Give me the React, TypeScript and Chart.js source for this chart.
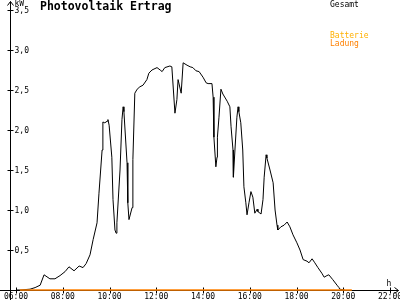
import React, { useEffect, useRef } from "react";
import { Chart, registerables } from "chart.js";

Chart.register(...registerables);

const chartTitle = "Photovoltaik Ertrag";
const yUnit = "kW";
const xUnit = "h";

const gesamtTimes = [
  "06:00", "06:10", "06:36", "06:49", "07:02", "07:12", "07:27", "07:40", "07:53", "08:06",
  "08:16", "08:29", "08:42", "08:52", "09:00", "09:10", "09:18", "09:28", "09:33", "09:41",
  "09:43", "09:48", "09:54", "09:56", "09:59", "10:06", "10:09", "10:14", "10:17", "10:19",
  "10:27", "10:32", "10:35", "10:37", "10:45", "10:47", "10:50", "10:58", "11:00", "11:05",
  "11:11", "11:18", "11:26", "11:36", "11:41", "11:49", "12:02", "12:10", "12:15", "12:22",
  "12:35", "12:40", "12:48", "12:53", "12:56", "13:04", "13:09", "13:19", "13:27", "13:34",
  "13:42", "13:50", "14:00", "14:08", "14:13", "14:23", "14:26", "14:28", "14:33", "14:36",
  "14:37", "14:41", "14:46", "14:51", "15:02", "15:09", "15:12", "15:17", "15:18", "15:22",
  "15:27", "15:30", "15:32", "15:37", "15:42", "15:45", "15:50", "15:53", "15:58", "16:03",
  "16:08", "16:13", "16:19", "16:21", "16:29", "16:34", "16:37", "16:42", "16:44", "16:52",
  "17:00", "17:05", "17:10", "17:12", "17:20", "17:28", "17:36", "17:43", "17:51", "18:01",
  "18:09", "18:17", "18:27", "18:32", "18:40", "18:47", "18:55", "19:05", "19:11", "19:18",
  "19:23", "19:33", "19:44", "19:49", "19:51", "20:04",
];
const gesamtKw = [
  0.0, 0.0, 0.01, 0.03, 0.06, 0.19, 0.14, 0.14, 0.18, 0.23,
  0.29, 0.24, 0.3, 0.28, 0.33, 0.44, 0.63, 0.84, 1.21, 1.75,
  2.1, 2.09, 2.11, 2.13, 2.06, 1.66, 1.13, 0.75, 0.71, 0.84,
  1.5, 2.13, 2.29, 2.23, 1.59, 1.09, 0.88, 1.03, 1.63, 2.46,
  2.51, 2.54, 2.56, 2.63, 2.71, 2.75, 2.78, 2.75, 2.73, 2.78,
  2.8, 2.79, 2.21, 2.38, 2.63, 2.46, 2.84, 2.81, 2.79, 2.78,
  2.74, 2.73, 2.66, 2.59, 2.58, 2.58, 2.41, 1.91, 1.54, 1.66,
  1.91, 2.16, 2.51, 2.45, 2.36, 2.29, 2.04, 1.75, 1.41, 1.75,
  2.16, 2.29, 2.23, 2.09, 1.75, 1.29, 1.09, 0.94, 1.09, 1.23,
  1.16, 0.96, 1.01, 0.98, 0.95, 1.13, 1.41, 1.69, 1.65, 1.5,
  1.34, 1.0, 0.81, 0.75, 0.79, 0.81, 0.85, 0.79, 0.69, 0.59,
  0.5, 0.38, 0.36, 0.34, 0.39, 0.34, 0.28, 0.21, 0.16, 0.18,
  0.19, 0.13, 0.06, 0.03, 0.01, 0.0,
];

const ladungTimes = ["06:10", "08:00", "12:00", "16:00", "20:22"];
const ladungKw = [0, 0, 0, 0, 0];

const batterieTimes: string[] = [];
const batterieKw: number[] = [];

const xTickHours = [6, 8, 10, 12, 14, 16, 18, 20, 22];
const xTickLabels = ["06:00", "08:00", "10:00", "12:00", "14:00", "16:00", "18:00", "20:00", "22:00"];
const yTickValues = [0.5, 1.0, 1.5, 2.0, 2.5, 3.0, 3.5];
const yTickLabels = ["0,5", "1,0", "1,5", "2,0", "2,5", "3,0", "3,5"];

const toHour = (t: string) => {
  const [h, m] = t.split(":").map(Number);
  return h + m / 60;
};
const toPoints = (times: string[], vals: number[]) =>
  times.map((t, i) => ({ x: toHour(t), y: vals[i] }));

const MONO = '"DejaVu Sans Mono", monospace';

const axesPlugin = {
  id: "customAxes",
  beforeDatasetsDraw(chart: any) {
    const ctx = chart.ctx as CanvasRenderingContext2D;
    const xs = chart.scales.x;
    const ys = chart.scales.y;
    const x0 = Math.round(xs.getPixelForValue(xs.min)) + 0.5;
    const y0 = Math.round(ys.getPixelForValue(0)) + 0.5;
    ctx.save();
    ctx.strokeStyle = "#000";
    ctx.lineWidth = 1;
    ctx.beginPath();
    // y axis with arrow
    ctx.moveTo(x0, y0 + 10);
    ctx.lineTo(x0, 1.5);
    ctx.moveTo(x0 - 3, 5.5);
    ctx.lineTo(x0, 1.5);
    ctx.lineTo(x0 + 3, 5.5);
    // x axis with arrow
    ctx.moveTo(0, y0);
    ctx.lineTo(398.5, y0);
    ctx.moveTo(394.5, y0 - 3);
    ctx.lineTo(398.5, y0);
    ctx.lineTo(394.5, y0 + 3);
    // y ticks
    yTickValues.forEach((v) => {
      const py = Math.round(ys.getPixelForValue(v)) + 0.5;
      ctx.moveTo(x0 - 3, py);
      ctx.lineTo(x0 + 3, py);
    });
    // x ticks
    xTickHours.forEach((h) => {
      const px = Math.round(xs.getPixelForValue(h)) + 0.5;
      ctx.moveTo(px, y0 - 3);
      ctx.lineTo(px, y0 + 3);
    });
    ctx.stroke();

    ctx.fillStyle = "#000";
    ctx.font = `8px ${MONO}`;
    ctx.textBaseline = "middle";
    ctx.textAlign = "left";
    yTickValues.forEach((v, i) => {
      const py = ys.getPixelForValue(v);
      ctx.fillText(yTickLabels[i], x0 + 4, py + 1);
    });
    ctx.fillText(yUnit, x0 + 4, 4);
    ctx.textAlign = "center";
    xTickHours.forEach((h, i) => {
      const px = xs.getPixelForValue(h);
      ctx.fillText(xTickLabels[i], px, y0 + 6);
    });
    ctx.fillText(xUnit, 389, y0 - 7);

    // title
    ctx.textAlign = "left";
    ctx.font = `bold 11.5px ${MONO}`;
    ctx.fillText(chartTitle, 40, 7.5);

    // legend
    ctx.font = `8px ${MONO}`;
    const ds = chart.data.datasets;
    const legendY: Record<string, number> = { Gesamt: 4.5, Batterie: 36, Ladung: 44 };
    ds.forEach((d: any) => {
      ctx.fillStyle = d.borderColor;
      ctx.fillText(d.label, 330, legendY[d.label]);
    });
    ctx.restore();
  },
};

export default function App() {
  const ref = useRef<HTMLCanvasElement | null>(null);
  useEffect(() => {
    if (!ref.current) return;
    const chart = new Chart(ref.current, {
      type: "line",
      data: {
        datasets: [
          {
            label: "Ladung",
            data: toPoints(ladungTimes, ladungKw),
            borderColor: "#ff8000",
            borderWidth: 1.5,
            pointRadius: 0,
            tension: 0,
            clip: 4,
          },
          {
            label: "Batterie",
            data: toPoints(batterieTimes, batterieKw),
            borderColor: "#ffb000",
            borderWidth: 1,
            pointRadius: 0,
            tension: 0,
            clip: 4,
          },
          {
            label: "Gesamt",
            data: toPoints(gesamtTimes, gesamtKw),
            borderColor: "#000000",
            borderWidth: 1,
            pointRadius: 0,
            tension: 0,
            clip: 4,
          },
        ],
      },
      options: {
        responsive: false,
        animation: false,
        devicePixelRatio: 1,
        layout: { padding: { left: 10, right: 2, top: 10, bottom: 10 } },
        plugins: { legend: { display: false }, tooltip: { enabled: false } },
        scales: {
          x: { type: "linear", min: 5.7433, max: 22.342, display: false },
          y: { type: "linear", min: 0, max: 3.5, display: false },
        },
      },
      plugins: [axesPlugin],
    });
    return () => chart.destroy();
  }, []);
  return (
    <div style={{ position: "fixed", left: 0, top: 0, width: 400, height: 300, background: "#fff" }}>
      <canvas ref={ref} width={400} height={300} />
    </div>
  );
}
